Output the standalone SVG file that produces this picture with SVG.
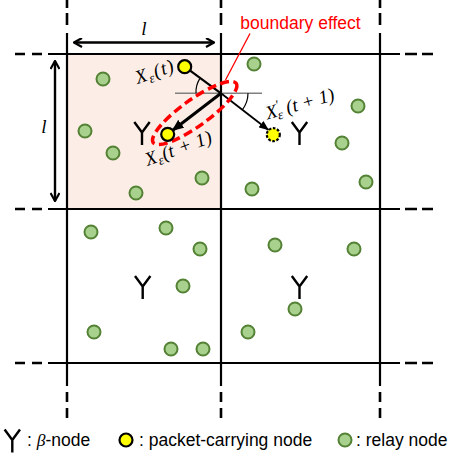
<svg xmlns="http://www.w3.org/2000/svg" width="451" height="455" viewBox="0 0 451 455">
  <defs>
    <style>
      .grid { stroke: #000; stroke-width: 2.2; fill: none; }
      .dash { stroke: #000; stroke-width: 2.6; fill: none; }
      .relay { fill: #A9D18E; stroke: #548235; stroke-width: 2; }
      .packet { fill: #FFFF00; stroke: #000; stroke-width: 2.2; }
      .beta { stroke: #000; stroke-width: 2.4; fill: none; stroke-linejoin: miter; }
      .dim { stroke: #000; stroke-width: 2.4; fill: none; }
      .math { font-family: "Liberation Serif", "DejaVu Serif", serif; font-style: italic; font-size: 19px; fill: #000; }
      .label { font-family: "Liberation Sans", Arial, sans-serif; font-size: 17.5px; fill: #000; }
    </style>
    <marker id="chev" viewBox="0 0 10 10" refX="9" refY="5" markerWidth="10" markerHeight="10" markerUnits="userSpaceOnUse" orient="auto-start-reverse">
      <path d="M1,0.5 L9,5 L1,9.5" fill="none" stroke="#000" stroke-width="2.2"/>
    </marker>
    <marker id="headBig" viewBox="0 0 12 10" refX="11" refY="5" markerWidth="12" markerHeight="10" markerUnits="userSpaceOnUse" orient="auto">
      <path d="M0,0 L12,5 L0,10 Z" fill="#000"/>
    </marker>
    <marker id="headSmall" viewBox="0 0 10 8" refX="9.5" refY="4" markerWidth="10" markerHeight="8" markerUnits="userSpaceOnUse" orient="auto">
      <path d="M0,0 L10,4 L0,8 Z" fill="#000"/>
    </marker>
    <path id="yshape" d="M-7.7,-11 L0,-0.5 L7.7,-11 M0,-0.5 L0,12"/>
  </defs>

  <!-- highlighted cell -->
  <rect x="67" y="54" width="154" height="155" fill="#FCEEE6"/>

  <!-- grid lines with dashed continuations -->
  <g id="grid">
    <path class="grid" d="M67,33 V386 M221,33 V386 M380,33 V386"/>
    <path class="grid" d="M48,54 H400 M48,209 H400 M48,363 H400"/>
    <path class="dash" d="M67,0 V8 M67,13 V25 M221,0 V8 M221,13 V25 M380,0 V8 M380,13 V25"/>
    <path class="dash" d="M67,392 V402 M67,408 V418 M221,392 V402 M221,408 V418 M380,392 V402 M380,408 V418"/>
    <path class="dash" d="M15,54 H25 M32,54 H42 M15,209 H25 M32,209 H42 M15,363 H25 M32,363 H42"/>
    <path class="dash" d="M405,54 H417 M422,54 H433 M405,209 H417 M422,209 H433 M405,363 H417 M422,363 H433"/>
  </g>

  <!-- cell size dimensions -->
  <g id="dimensions">
    <line class="dim" x1="74" y1="42.5" x2="214" y2="42.5" marker-start="url(#chev)" marker-end="url(#chev)"/>
    <line class="dim" x1="55" y1="61" x2="55" y2="201" marker-start="url(#chev)" marker-end="url(#chev)"/>
    <text class="math" x="144" y="35" text-anchor="middle">l</text>
    <text class="math" x="44" y="133" text-anchor="middle">l</text>
  </g>

  <!-- beta nodes -->
  <g id="beta-nodes">
    <use href="#yshape" class="beta" x="142" y="133"/>
    <use href="#yshape" class="beta" x="299.5" y="133"/>
    <use href="#yshape" class="beta" x="142.7" y="287"/>
    <use href="#yshape" class="beta" x="299.5" y="287"/>
  </g>

  <!-- relay nodes -->
  <g id="relay-nodes">
    <circle class="relay" cx="103" cy="79" r="6.5"/>
    <circle class="relay" cx="85" cy="131" r="6.5"/>
    <circle class="relay" cx="113" cy="153" r="6.5"/>
    <circle class="relay" cx="136" cy="193" r="6.5"/>
    <circle class="relay" cx="202" cy="178" r="6.5"/>
    <circle class="relay" cx="254" cy="64" r="6.5"/>
    <circle class="relay" cx="358" cy="106" r="6.5"/>
    <circle class="relay" cx="342" cy="143" r="6.5"/>
    <circle class="relay" cx="366" cy="182" r="6.5"/>
    <circle class="relay" cx="252" cy="189" r="6.5"/>
    <circle class="relay" cx="91" cy="232" r="6.5"/>
    <circle class="relay" cx="166" cy="228" r="6.5"/>
    <circle class="relay" cx="200" cy="249" r="6.5"/>
    <circle class="relay" cx="183" cy="286" r="6.5"/>
    <circle class="relay" cx="94" cy="332" r="6.5"/>
    <circle class="relay" cx="171" cy="349" r="6.5"/>
    <circle class="relay" cx="203" cy="349" r="6.5"/>
    <circle class="relay" cx="275" cy="245" r="6.5"/>
    <circle class="relay" cx="354" cy="249" r="6.5"/>
    <circle class="relay" cx="295" cy="309" r="6.5"/>
    <circle class="relay" cx="248" cy="332" r="6.5"/>
  </g>

  <!-- movement of the packet-carrying node across the cell boundary -->
  <g id="connectors">
    <line x1="175" y1="93.3" x2="262" y2="93.3" stroke="#808080" stroke-width="1.5"/>
    <path d="M199.8,78.6 A25,25 0 0 0 196,93.3" fill="none" stroke="#000" stroke-width="1.2"/>
    <path d="M248,93.3 A27,27 0 0 1 242.3,109.8" fill="none" stroke="#000" stroke-width="1.2"/>
    <line x1="184.7" y1="66.7" x2="221" y2="93.3" stroke="#000" stroke-width="2.2"/>
    <line x1="221" y1="93.3" x2="268.5" y2="130" stroke="#000" stroke-width="1.8" marker-end="url(#headSmall)"/>
    <line x1="221" y1="93.3" x2="172.5" y2="130.5" stroke="#000" stroke-width="3" marker-end="url(#headBig)"/>
    <ellipse cx="194.7" cy="113" rx="51" ry="13.3" transform="rotate(-35.6 194.7 113)" fill="none" stroke="#FF0000" stroke-width="3.5" stroke-dasharray="9 4.5"/>
    <line x1="250" y1="33.5" x2="225.5" y2="80" stroke="#FF0000" stroke-width="1.3"/>
  </g>

  <!-- packet-carrying node positions -->
  <g id="packet-nodes">
    <circle class="packet" cx="184.7" cy="66.7" r="6.5"/>
    <circle class="packet" cx="167.7" cy="134.3" r="6.5"/>
    <circle class="packet" cx="273.3" cy="134.7" r="6.5" stroke-dasharray="2.6 1.6"/>
  </g>

  <!-- node labels -->
  <g id="labels">
    <text class="math" transform="translate(137.5,84) rotate(-19)" letter-spacing="1.2">X<tspan font-size="13.5" dy="3.5">ε</tspan><tspan dy="-3.5">(t)</tspan></text>
    <text class="math" transform="translate(147.5,166) rotate(-20)" letter-spacing="0.4">X<tspan font-size="13.5" dy="3.5">ε</tspan><tspan dy="-3.5">(t + 1)</tspan></text>
    <text class="math" transform="translate(267.5,119.5) rotate(-16)">X<tspan font-size="13.5" dy="-7">′</tspan><tspan font-size="13.5" dx="-3.5" dy="10.5">ε</tspan><tspan dy="-3.5"> (t + 1)</tspan></text>
    <text x="300.5" y="29" text-anchor="middle" font-family="Liberation Sans, Arial, sans-serif" font-size="17.5" fill="#FF0000">boundary effect</text>
  </g>

  <!-- legend -->
  <g id="legend">
    <use href="#yshape" class="beta" x="12.3" y="440.5"/>
    <text class="label" x="27" y="446">: <tspan font-family="Liberation Serif, serif" font-style="italic">β</tspan>-node</text>
    <circle class="packet" cx="126" cy="440" r="6.5"/>
    <text class="label" x="139" y="446">: packet-carrying node</text>
    <circle class="relay" cx="345" cy="440" r="6.5"/>
    <text class="label" x="356" y="446">: relay node</text>
  </g>
</svg>
